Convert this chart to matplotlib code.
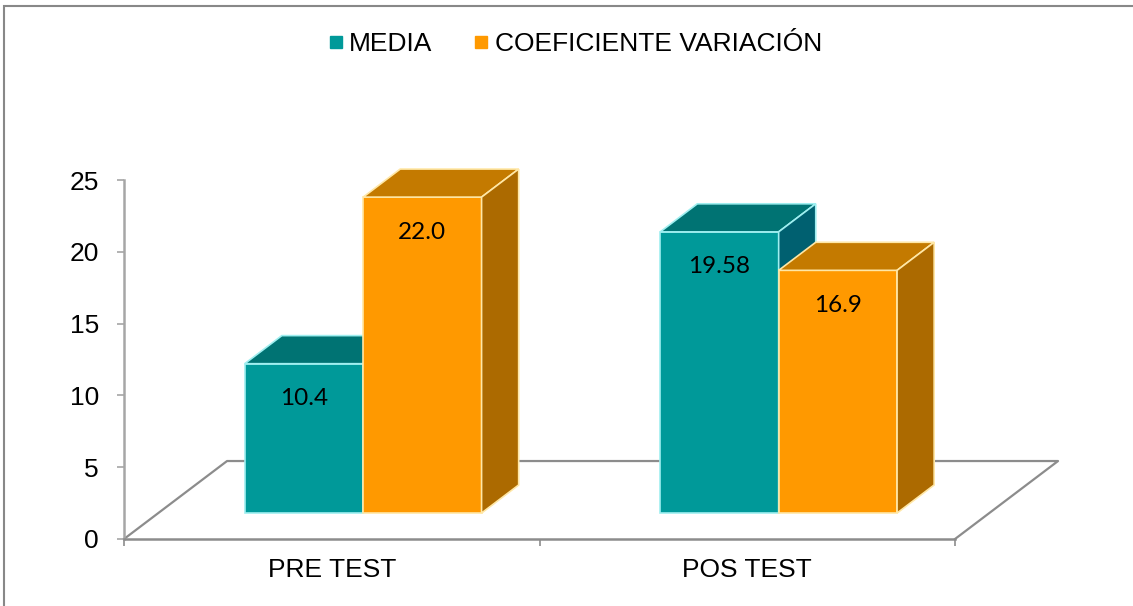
import matplotlib.pyplot as plt
from matplotlib.patches import Polygon, Rectangle
from matplotlib.lines import Line2D

categorias = ['PRE TEST', 'POS TEST']
series = ['MEDIA', 'COEFICIENTE VARIACIÓN']
media = [10.4, 19.58]
coef_var = [22.0, 16.9]
etiquetas_media = ['10.4', '19.58']
etiquetas_cv = ['22.0', '16.9']
ticks_y = [0, 5, 10, 15, 20, 25]

# colores: cara frontal, cara superior, cara lateral, borde
col_media = ('#009999', '#007373', '#006070', '#9FEFF0')
col_cv = ('#FF9900', '#C47A00', '#AC6A00', '#FFE7A6')

# geometria del "3D" (proyeccion oblicua)
DX, DY = 0.248, 5.43     # profundidad total del piso
f0, bd = 0.333, 0.36     # posicion de la cara frontal y fondo de la barra
ancho = 0.285
margen = 0.208

W, H = 1133, 606
fig = plt.figure(figsize=(W / 100, H / 100), dpi=100)
ax = fig.add_axes([124 / W, (H - 539) / H, 831 / W, 359 / H])
ax.set_xlim(0, 2)
ax.set_ylim(0, 25)

# piso
gris = '#8C8C8C'
ax.plot([0, DX, 2 + DX, 2], [0, DY, DY, 0], color=gris, lw=1.6, clip_on=False, zorder=1)


def barra(x0, valor, cols, texto):
    fx, fy = x0 + f0 * DX, f0 * DY
    bx, by = bd * DX, bd * DY
    frente = Rectangle((fx, fy), ancho, valor, facecolor=cols[0], edgecolor=cols[3], lw=1.2)
    arriba = Polygon([(fx, fy + valor), (fx + ancho, fy + valor),
                      (fx + ancho + bx, fy + valor + by), (fx + bx, fy + valor + by)],
                     closed=True, facecolor=cols[1], edgecolor=cols[3], lw=1.2)
    lado = Polygon([(fx + ancho, fy), (fx + ancho, fy + valor),
                    (fx + ancho + bx, fy + valor + by), (fx + ancho + bx, fy + by)],
                   closed=True, facecolor=cols[2], edgecolor=cols[3], lw=1.2)
    for p in (frente, arriba, lado):
        p.set_clip_on(False)
        p.set_zorder(3)
        ax.add_patch(p)
    ax.text(fx + ancho / 2, fy + valor - 1.7, texto, ha='center', va='top',
            fontsize=17.5, family='Lato', color='black', zorder=5)


for i in range(len(categorias)):
    x0 = i + margen
    barra(x0, media[i], col_media, etiquetas_media[i])
    barra(x0 + ancho, coef_var[i], col_cv, etiquetas_cv[i])

# ejes
for s in ['top', 'right']:
    ax.spines[s].set_visible(False)
ax.spines['left'].set_color('#A6A6A6')
ax.spines['left'].set_linewidth(1.8)
ax.spines['bottom'].set_color(gris)
ax.spines['bottom'].set_linewidth(1.8)
ax.set_facecolor('none')

ax.set_yticks(ticks_y)
ax.set_yticklabels([str(t) for t in ticks_y])
ax.tick_params(axis='y', length=5, width=1.2, color='#A6A6A6', pad=13,
               labelsize=19, labelcolor='black')
ax.set_xticks([0, 1, 2])
ax.set_xticklabels(['', '', ''])
ax.set_xticks([0.5, 1.5], minor=True)
ax.set_xticklabels(categorias, minor=True)
ax.tick_params(axis='x', which='major', length=5, width=1.2, color=gris)
ax.tick_params(axis='x', which='minor', length=0, pad=14, labelsize=19)
for t in ax.get_xticklabels(minor=True) + ax.get_yticklabels():
    t.set_family('Liberation Sans')

# leyenda
handles = [Line2D([], [], marker='s', ls='none', color=col_media[0], markersize=8),
           Line2D([], [], marker='s', ls='none', color=col_cv[0], markersize=8)]
fig.legend(handles, series, loc='center', bbox_to_anchor=(0.508, 0.927), ncol=2,
           frameon=False, handlelength=0.5, handletextpad=0.25, columnspacing=1.6,
           prop={'family': 'Liberation Sans', 'size': 19})

# marco
fig.patches.append(Rectangle((3.5 / W, -0.1), 1.1, 1.1 - 5.5 / H, transform=fig.transFigure,
                             fill=False, edgecolor='#888888', lw=1.5))

plt.savefig('out.png', dpi=100)
